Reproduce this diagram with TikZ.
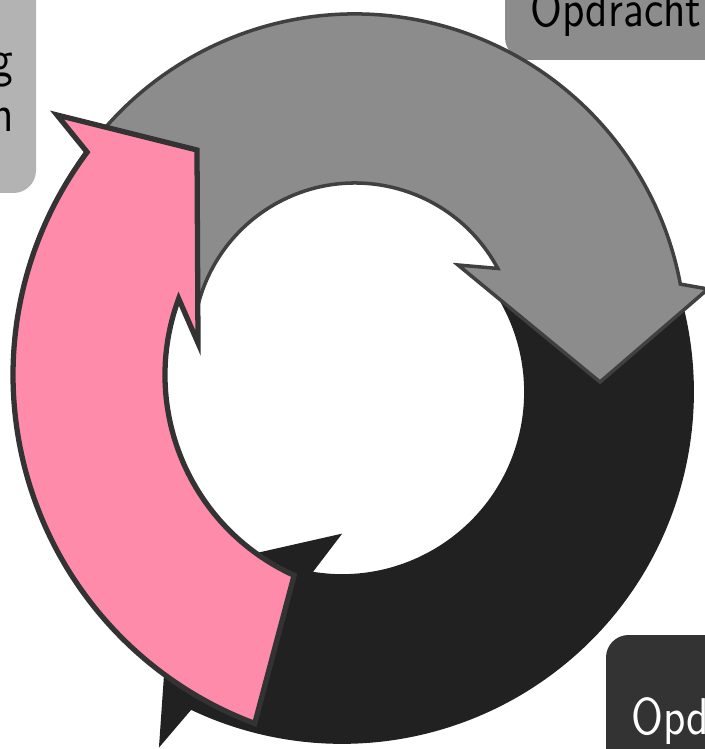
\documentclass[tikz,border=0pt]{standalone}
\usepackage{fontspec}
\setmainfont{DejaVu Sans}
\newfontfamily\boxfont{lmsans10-regular.otf}[FakeStretch=0.84]
\usetikzlibrary{calc}
\definecolor{arcgray}{HTML}{8C8C8C}
\definecolor{arcblack}{HTML}{212121}
\definecolor{arcpink}{HTML}{FF8BAB}
\definecolor{rimgray}{HTML}{404040}
\definecolor{rimdark}{HTML}{333333}
\definecolor{boxlight}{HTML}{B3B3B3}
\definecolor{boxmid}{HTML}{8C8C8C}
\definecolor{boxdark}{HTML}{333333}
\begin{document}
\begin{tikzpicture}[x=0.02cm,y=-0.02cm,line join=miter,
    box/.style={rounded corners=0.45cm},
    lbl/.style={font=\boxfont\fontsize{29.4}{33}\selectfont,inner sep=0pt}]
  \useasboundingbox (0,0) rectangle (705,749);
  \fill[box,boxlight] (-60,-40) rectangle (36,193);
  \fill[box,boxmid] (505,-40) rectangle (780,60);
  \fill[box,boxdark] (606,635) rectangle (780,800);
  \node[lbl,anchor=base east] (txtg) at (14,77) {g};
  \node[lbl,anchor=base east] (txtn) at (14,132) {n};
  \node[lbl,anchor=base west] (txtopdracht) at (530,27) {Opdracht};
  \node[lbl,anchor=base west,text=white] (txtopd) at (631,734) {Opd};
  \coordinate (bc) at (342,392);
  \coordinate (gc) at (355,345);
  \coordinate (pc) at (385,375);
  \filldraw[fill=arcblack,draw=arcblack,line width=1pt] ($(bc)+(-35:351)$)
    arc[start angle=-35,end angle=115.5,radius=351] -- (160,745) -- (172,573)
    -- (340,535) -- ($(bc)+(99.6:183)$) arc[start angle=99.6,end angle=-35,radius=183] -- cycle;
  \filldraw[fill=arcgray,draw=rimgray,line width=2pt] ($(gc)+(-166:331)$)
    arc[start angle=-166,end angle=-10.6,radius=331] -- (708,289) -- (600,382)
    -- (458,265) -- ($(gc)+(-28.2:162)$) arc[start angle=-28.2,end angle=-166,radius=162] -- cycle;
  \filldraw[fill=arcpink,draw=rimdark,line width=3pt] ($(pc)+(110.5:372)$)
    arc[start angle=110.5,end angle=216.8,radius=372] -- (57,115) -- (197,150)
    -- (198,343) -- ($(pc)+(200.3:220)$) arc[start angle=200.3,end angle=114.4,radius=220] -- cycle;
\end{tikzpicture}
\end{document}
